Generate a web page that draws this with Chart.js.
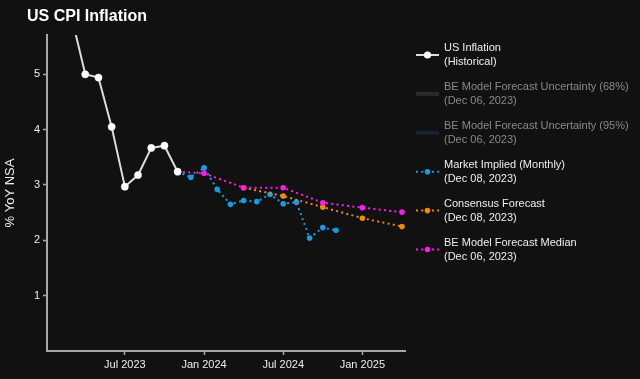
<!DOCTYPE html>
<html>
<head>
<meta charset="utf-8">
<script src="https://cdn.jsdelivr.net/npm/chart.js@4.4.0/dist/chart.umd.min.js"></script>
<style>
  html, body { margin: 0; padding: 0; background: #111111; }
  canvas { display: block; }
</style>
</head>
<body>
<canvas id="chart" width="640" height="379"></canvas>
<script>
// x values are months counted from Jan 2023 (= 0)
const xTickMonths = [6, 12, 18, 24];
const xTickLabels = ['Jul 2023', 'Jan 2024', 'Jul 2024', 'Jan 2025'];
const yTicks = [1, 2, 3, 4, 5];

const histMonths = [2, 3, 4, 5, 6, 7, 8, 9, 10];
const histValues = [6.0, 5.0, 4.94, 4.05, 2.97, 3.18, 3.67, 3.71, 3.24];

const marketMonths = [10, 11, 12, 13, 14, 15, 16, 17, 18, 19, 20, 21, 22];
const marketValues = [3.24, 3.14, 3.31, 2.92, 2.65, 2.72, 2.70, 2.83, 2.66, 2.69, 2.04, 2.23, 2.18];

const consensusMonths = [15, 18, 21, 24, 27];
const consensusValues = [2.95, 2.80, 2.60, 2.40, 2.25];

const medianMonths = [10, 12, 15, 18, 21, 24, 27];
const medianValues = [3.24, 3.21, 2.95, 2.95, 2.68, 2.59, 2.51];

const legendLines = [
  ['US Inflation', '(Historical)'],
  ['BE Model Forecast Uncertainty (68%)', '(Dec 06, 2023)'],
  ['BE Model Forecast Uncertainty (95%)', '(Dec 06, 2023)'],
  ['Market Implied (Monthly)', '(Dec 08, 2023)'],
  ['Consensus Forecast', '(Dec 08, 2023)'],
  ['BE Model Forecast Median', '(Dec 06, 2023)'],
];

const FONT = "'Liberation Sans', Arial, sans-serif";
const TEXT = '#eeeeee';
const AXIS = '#a8a8a8';
const DOT = [2, 3.3];

const pts = (xs, ys) => xs.map((x, i) => ({ x, y: ys[i] }));

function dotted(label, xs, ys, color, order) {
  return {
    label, order,
    data: pts(xs, ys),
    borderColor: color,
    backgroundColor: color,
    pointBackgroundColor: color,
    pointBorderColor: color,
    borderWidth: 2,
    borderDash: DOT,
    pointRadius: 2.8,
    pointBorderWidth: 0,
  };
}

const datasets = [
  {
    label: 'US Inflation', order: 0,
    data: pts(histMonths, histValues),
    borderColor: '#dcdcdc',
    borderWidth: 2,
    pointRadius: 3.6,
    pointBackgroundColor: '#ffffff',
    pointBorderColor: '#ffffff',
    pointBorderWidth: 0.5,
  },
  { label: 'BE Model Forecast Uncertainty (68%)', order: 5, data: [], hidden: true, backgroundColor: '#2b2b2b', band: true },
  { label: 'BE Model Forecast Uncertainty (95%)', order: 6, data: [], hidden: true, backgroundColor: '#182430', band: true },
  dotted('Market Implied (Monthly)', marketMonths, marketValues, '#1a9be0', 3),
  dotted('Consensus Forecast', consensusMonths, consensusValues, '#f28a0e', 2),
  dotted('BE Model Forecast Median', medianMonths, medianValues, '#fc1de6', 1),
];

// title + plotly-style legend on the right
const overlay = {
  id: 'overlay',
  afterDraw(chart) {
    const ctx = chart.ctx;
    ctx.save();
    ctx.fillStyle = '#ffffff';
    ctx.font = 'bold 16px ' + FONT;
    ctx.textBaseline = 'middle';
    ctx.textAlign = 'left';
    ctx.fillText('US CPI Inflation', 27, 17);

    chart.data.datasets.forEach((ds, i) => {
      const y = 55 + i * 38.9;
      if (ds.band) {
        ctx.fillStyle = ds.backgroundColor;
        ctx.fillRect(416, y - 2, 23, 4);
      } else {
        ctx.strokeStyle = ds.borderColor;
        ctx.lineWidth = 2;
        ctx.setLineDash(ds.borderDash || []);
        ctx.beginPath();
        ctx.moveTo(416, y);
        ctx.lineTo(439, y);
        ctx.stroke();
        ctx.setLineDash([]);
        ctx.fillStyle = ds.pointBackgroundColor;
        ctx.beginPath();
        ctx.arc(427.5, y, ds.pointRadius, 0, Math.PI * 2);
        ctx.fill();
      }
      ctx.fillStyle = ds.band ? '#8a8a8a' : TEXT;
      ctx.font = '11px ' + FONT;
      ctx.fillText(legendLines[i][0], 444, y - 7);
      ctx.fillText(legendLines[i][1], 444, y + 7.3);
    });
    ctx.restore();
  },
};

new Chart(document.getElementById('chart'), {
  type: 'line',
  data: { datasets },
  plugins: [overlay],
  options: {
    responsive: false,
    animation: false,
    layout: { padding: { top: 35, right: 235, bottom: 0, left: 0 } },
    plugins: {
      legend: { display: false },
      title: { display: false },
      tooltip: { enabled: false },
    },
    elements: { line: { tension: 0 } },
    scales: {
      x: {
        type: 'linear',
        min: 0.1,
        max: 27.23,
        afterBuildTicks: s => { s.ticks = xTickMonths.map(v => ({ value: v })); },
        afterFit: s => { s.height = 28; },
        ticks: {
          autoSkip: false,
          maxRotation: 0,
          padding: 3,
          color: TEXT,
          font: { family: FONT, size: 11 },
          callback: v => xTickLabels[xTickMonths.indexOf(v)],
        },
        grid: { drawOnChartArea: false, drawTicks: true, tickLength: 4, tickColor: AXIS, tickWidth: 1.5 },
        border: { display: true, color: AXIS, width: 2 },
      },
      y: {
        min: 0,
        max: 5.71,
        afterBuildTicks: s => { s.ticks = yTicks.map(v => ({ value: v })); },
        afterFit: s => { s.width = 47; },
        ticks: {
          padding: 3,
          color: TEXT,
          font: { family: FONT, size: 11 },
        },
        title: {
          display: true,
          text: '% YoY NSA',
          color: TEXT,
          font: { family: FONT, size: 13 },
          padding: { top: 3, bottom: 0 },
        },
        grid: { drawOnChartArea: false, drawTicks: true, tickLength: 4, tickColor: AXIS, tickWidth: 1.5 },
        border: { display: true, color: AXIS, width: 2 },
      },
    },
  },
});
</script>
</body>
</html>
